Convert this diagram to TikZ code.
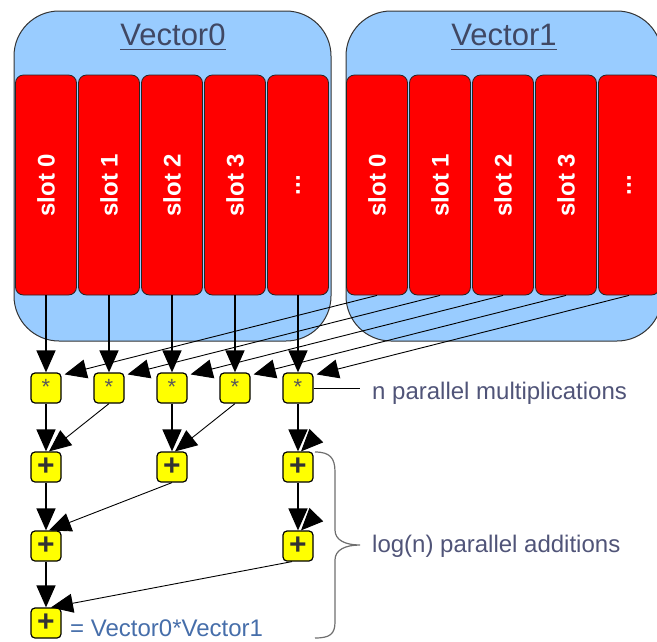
\documentclass[tikz,border=0pt]{standalone}
\usepackage{fontspec}
\setmainfont{Liberation Sans}
\usetikzlibrary{arrows.meta}
\definecolor{vecblue}{RGB}{153,204,255}
\definecolor{slotred}{RGB}{255,0,0}
\definecolor{opyellow}{RGB}{255,255,0}
\definecolor{titlecol}{RGB}{64,72,100}
\definecolor{labcol}{RGB}{80,84,120}
\definecolor{rescol}{RGB}{70,110,170}
\definecolor{bracecol}{RGB}{110,110,110}
\newcommand\slotdots{...}
\tikzset{
  vecbox/.style={draw=black!80, line width=1pt, fill=vecblue, rounded corners=45pt, minimum width=#1, minimum height=330pt, inner sep=0pt},
  slotbox/.style={draw=black!85, line width=0.8pt, fill=slotred, rounded corners=8pt, minimum width=61pt, minimum height=220pt, inner sep=0pt},
  slotlab/.style={rotate=90, text=white, font=\fontsize{24}{24}\selectfont\bfseries},
  titletext/.style={text=titlecol, font=\fontsize{31}{31}\selectfont, inner sep=0pt},
  opbox/.style={draw=black, line width=1.2pt, fill=opyellow, rounded corners=4pt, minimum width=30pt, minimum height=30pt, inner sep=0pt},
  multop/.style={opbox, font=\fontsize{22}{22}\selectfont, text=black!65, text depth=0pt},
  plusop/.style={opbox, font=\fontsize{30}{30}\selectfont\bfseries, text=black!80},
  vflow/.style={line width=1.4pt, -{Triangle[length=22pt,width=19pt]}},
  dflow/.style={line width=0.9pt, -{Triangle[length=22pt,width=19pt]}},
  annot/.style={text=labcol, font=\fontsize{24}{24}\selectfont, anchor=west, inner sep=0pt},
}
\begin{document}
\begin{tikzpicture}[x=1pt,y=-1pt]
\useasboundingbox (0,0) rectangle (657,641);
\clip (0,0) rectangle (657,641);
% vector containers
\node[vecbox=317pt] (v0) at (172.5,176) {};
\node[vecbox=316pt] (v1) at (504,176) {};
\node[titletext] (t0) at (173,35) {Vector0};
\node[titletext] (t1) at (504,35) {Vector1};
\draw[titlecol, line width=1.6pt] ([yshift=-4pt]t0.base west) -- ([yshift=-4pt]t0.base east);
\draw[titlecol, line width=1.6pt] ([yshift=-4pt]t1.base west) -- ([yshift=-4pt]t1.base east);
% slots
\foreach \i/\l in {0/slot 0,1/slot 1,2/slot 2,3/slot 3,4/\slotdots} {
  \node[slotbox] (a\i) at ({46+63*\i},185) {};
  \node[slotlab] at (a\i) {\l};
  \node[slotbox] (b\i) at ({377+63*\i},185) {};
  \node[slotlab] at (b\i) {\l};
}
% multiplications
\foreach \i in {0,1,2,3,4} {
  \node[multop] (m\i) at ({46+63*\i},388) {\raisebox{3pt}{*}};
}
% additions
\node[plusop] (p0) at (46,467) {+};
\node[plusop] (p1) at (172,467) {+};
\node[plusop] (p2) at (298,467) {+};
\node[plusop] (q0) at (46,546) {+};
\node[plusop] (q1) at (298,546) {+};
\node[plusop] (r) at (46,623) {+};
% slot -> mult arrows
\foreach \i in {0,1,2,3,4} {
  \draw[vflow] (a\i.south) -- (m\i.north);
  \draw[dflow] (b\i.south) -- ([xshift=3pt,yshift=-2pt]m\i.north east);
}
% mult -> add
\draw[vflow] (m0) -- (p0);
\draw[dflow] (m1.south) -- ([xshift=3pt]p0.north);
\draw[vflow] (m2) -- (p1);
\draw[dflow] (m3.south) -- ([xshift=3pt]p1.north);
\draw[vflow] (m4) -- (p2);
\coordinate (s1) at (316,436);
\draw[dflow] (s1) -- ([xshift=3pt]p2.north);
% add -> add
\draw[vflow] (p0) -- (q0);
\draw[dflow] (p1.south) -- ([xshift=3pt]q0.north);
\draw[vflow] (p2) -- (q1);
\coordinate (s2) at (316,515);
\draw[dflow] (s2) -- ([xshift=3pt]q1.north);
\draw[vflow] (q0) -- (r);
\draw[dflow] ([xshift=-6pt]q1.south) -- ([xshift=5pt]r.north);
% annotations
\coordinate (lm) at (360,388);
\draw[line width=1pt] (m4.east) -- (lm);
\node[annot] (n1) at (372,393) {n parallel multiplications};
\draw[bracecol, line width=1.2pt] (315,452) .. controls (330,452) and (335,458) .. (335,472) -- (335,530) .. controls (335,540) and (345,545) .. (360,545) .. controls (345,545) and (335,550) .. (335,560) -- (335,622) .. controls (335,634) and (330,638) .. (315,638);
\node[annot] (n2) at (372,546) {log(n) parallel additions};
\node[annot, text=rescol] (n3) at (70,628) {= Vector0*Vector1};
\end{tikzpicture}
\end{document}
